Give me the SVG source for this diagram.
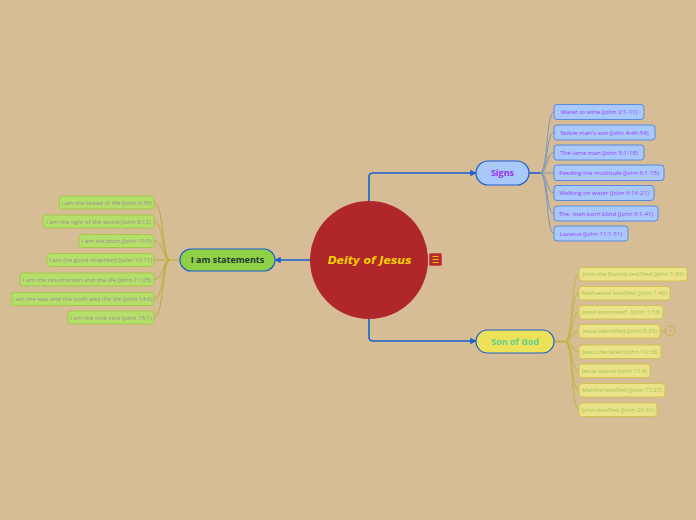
<svg xmlns="http://www.w3.org/2000/svg" width="696" height="520" viewBox="0 0 696 520">
<defs>
<style>
.lf{font-family:"Open Sans","DejaVu Sans",sans-serif;font-size:6.1px;text-anchor:middle}
.g rect{fill:#b4e06a;stroke:#a6c84a;stroke-width:1}
.g text{fill:#a08898}
.b rect{fill:#a9c8fb;stroke:#5a88e0;stroke-width:1}
.b text{fill:#9b3dff}
.y rect{fill:#ece288;stroke:#cfc452;stroke-width:1}
.y text{fill:#a2c84e}
.br{font-family:"Open Sans","DejaVu Sans",sans-serif;font-size:9px;font-weight:bold;text-anchor:middle}
.main{stroke:#1a5fd0;stroke-width:1.6;fill:none}
</style>
<marker id="ar" viewBox="0 0 10 10" refX="9" refY="5" markerWidth="4" markerHeight="4" orient="auto"><path d="M0,0 L10,5 L0,10 z" fill="#1a5fd0"/></marker>
</defs>
<rect width="696" height="520" fill="#d7bd96"/>
<g id="connectors">
<path class="main" d="M369,201 V177 Q369,173 373,173 H476" marker-end="url(#ar)"/>
<path class="main" d="M369,318 V337 Q369,341 373,341 H476" marker-end="url(#ar)"/>
<path class="main" d="M310,260 H275" marker-end="url(#ar)"/>
<g fill="none" stroke="#b9ae3c" stroke-width="1">
<path d="M180,260 H170"/>
<path d="M170,260 C162,260 164,202.5 154,202.5"/>
<path d="M170,260 C162,260 164,221.5 154,221.5"/>
<path d="M170,260 C162,260 164,241 154,241"/>
<path d="M170,260 H154"/>
<path d="M170,260 C162,260 164,279.5 154,279.5"/>
<path d="M170,260 C162,260 164,299 154,299"/>
<path d="M170,260 C162,260 164,317.5 154,317.5"/>
</g>
<path d="M529,173 H540" stroke="#1a5fd0" stroke-width="1.6" fill="none"/>
<g fill="none" stroke="#7d94b6" stroke-width="1">
<path d="M540,173 C548,173 546,112 554,112"/>
<path d="M540,173 C548,173 546,132.5 554,132.5"/>
<path d="M540,173 C548,173 546,152.5 554,152.5"/>
<path d="M540,173 H554"/>
<path d="M540,173 C548,173 546,193 554,193"/>
<path d="M540,173 C548,173 546,213.5 554,213.5"/>
<path d="M540,173 C548,173 546,233.5 554,233.5"/>
</g>
<path d="M554,341.5 H565" stroke="#b9ae3c" stroke-width="1.6" fill="none"/>
<g fill="none" stroke="#c2b444" stroke-width="1">
<path d="M565,341.5 C573,341.5 571,274 579,274"/>
<path d="M565,341.5 C573,341.5 571,293 579,293"/>
<path d="M565,341.5 C573,341.5 571,312 579,312"/>
<path d="M565,341.5 C573,341.5 571,331 579,331"/>
<path d="M565,341.5 C573,341.5 571,351.5 579,351.5"/>
<path d="M565,341.5 C573,341.5 571,370.5 579,370.5"/>
<path d="M565,341.5 C573,341.5 571,390 579,390"/>
<path d="M565,341.5 C573,341.5 571,409.5 579,409.5"/>
<path d="M660,331 H665"/>
</g>
</g>
<g id="center">
<circle cx="369" cy="260" r="59" fill="#b0272a"/>
<text x="369.5" y="264" font-family="'DejaVu Sans',sans-serif" font-size="10.8" font-style="italic" font-weight="bold" fill="#f2d000" text-anchor="middle">Deity of Jesus</text>
<rect x="429.5" y="253.5" width="12" height="12" rx="1" fill="#b52a2a" stroke="#cc4a4a" stroke-width="1"/>
<g stroke="#f0c000" stroke-width="1.2"><path d="M432.5,256.5 H438.5 M432.5,259.5 H438.5 M432.5,262.5 H438.5"/></g>
</g>
<g id="signs">
<rect x="476" y="161" width="53" height="24" rx="12" fill="#a9c8fb" stroke="#1a5fd0" stroke-width="1.2"/>
<text class="br" x="502.5" y="176.3" fill="#9b30f0">Signs</text>
</g>
<g id="sonofgod">
<rect x="476" y="330" width="78" height="23" rx="11.5" fill="#ece25a" stroke="#1a5fd0" stroke-width="1.2"/>
<text class="br" x="515" y="345" fill="#66d08a" font-weight="normal">Son of God</text>
</g>
<g id="iam">
<rect x="180" y="249" width="95" height="22" rx="11" fill="#8fd044" stroke="#1a5fd0" stroke-width="1.2"/>
<text class="br" x="227.5" y="263" fill="#1e3a3a" font-size="8.5">I am statements</text>
</g>
<g class="lf g">
<g id="l1"><rect x="59" y="196" width="95" height="13" rx="3"/><text x="106.5" y="204.6">I am the bread of life (John 6:35)</text></g>
<g id="l2"><rect x="43" y="215" width="111" height="13" rx="3"/><text x="98.5" y="223.6">I am the light of the world (John 8:12)</text></g>
<g id="l3"><rect x="79" y="234.5" width="75" height="13" rx="3"/><text x="116.5" y="243.1">I am the door (John 10:9)</text></g>
<g id="l4"><rect x="47" y="253.5" width="107" height="13" rx="3"/><text x="100.5" y="262.1">I am the good shepherd (John 10:11)</text></g>
<g id="l5"><rect x="20" y="273" width="134" height="13" rx="3"/><text x="87" y="281.6">I am the resurrection and the life (John 11:25)</text></g>
<g id="l6"><rect x="11" y="292.5" width="143" height="13" rx="3"/><text x="82.5" y="301.1">I am the way and the truth and the life (John 14:6)</text></g>
<g id="l7"><rect x="68" y="311" width="86" height="13" rx="3"/><text x="111" y="319.6">I am the true vine (John 15:1)</text></g>
</g>
<g class="lf b">
<g id="s1"><rect x="554" y="104.5" width="90" height="15" rx="3"/><text x="599" y="114.2">Water to wine (John 2:1-11)</text></g>
<g id="s2"><rect x="554" y="125" width="101" height="15" rx="3"/><text x="604.5" y="134.7">Noble man's son (John 4:46-54)</text></g>
<g id="s3"><rect x="554" y="145" width="90" height="15" rx="3"/><text x="599" y="154.7">The lame man (John 5:1-18)</text></g>
<g id="s4"><rect x="554" y="165" width="110" height="15.5" rx="3"/><text x="609" y="175">Feeding the multitude (John 6:1-15)</text></g>
<g id="s5"><rect x="554" y="185.5" width="100" height="15" rx="3"/><text x="604" y="195.2">Walking on water (John 6:16-21)</text></g>
<g id="s6"><rect x="554" y="206" width="104" height="15" rx="3"/><text x="606" y="215.7">The&#160; man born blind (John 9:1-41)</text></g>
<g id="s7"><rect x="554" y="226" width="74" height="15" rx="3"/><text x="591" y="235.7">Lazarus (John 11:1-51)</text></g>
</g>
<g class="lf y">
<g id="y1"><rect x="579" y="267.5" width="108" height="13.5" rx="3"/><text x="633" y="276.4">John the Baptist testified (John 1:34)</text></g>
<g id="y2"><rect x="579" y="286.5" width="91" height="13.5" rx="3"/><text x="624.5" y="295.4">Nathanael testified (John 1:49)</text></g>
<g id="y3"><rect x="579" y="305.5" width="84" height="13.5" rx="3"/><text x="621" y="314.4">Jesus expressed&#160; (John 3:18)</text></g>
<g id="y4"><rect x="579" y="324.5" width="81" height="13.5" rx="3"/><text x="619.5" y="333.4">Jesus identified (John 5:25)</text></g>
<g id="y5"><rect x="579" y="345" width="82" height="13.5" rx="3"/><text x="620" y="353.9">Jesus declared (John 10:36)</text></g>
<g id="y6"><rect x="579" y="364" width="71" height="13.5" rx="3"/><text x="614.5" y="372.9">Jesus stated (John 11:4)</text></g>
<g id="y7"><rect x="579" y="383.5" width="86" height="13.5" rx="3"/><text x="622" y="392.4">Martha testified (John 11:27)</text></g>
<g id="y8"><rect x="579" y="403" width="78" height="13.5" rx="3"/><text x="618" y="411.9">John testified (John 20:31)</text></g>
<g id="c1"><circle cx="670" cy="331" r="5" fill="none" stroke="#c2b444" stroke-width="1"/><text x="670" y="333" style="fill:#b8a84a;font-size:5px">1</text></g>
</g>
</svg>
